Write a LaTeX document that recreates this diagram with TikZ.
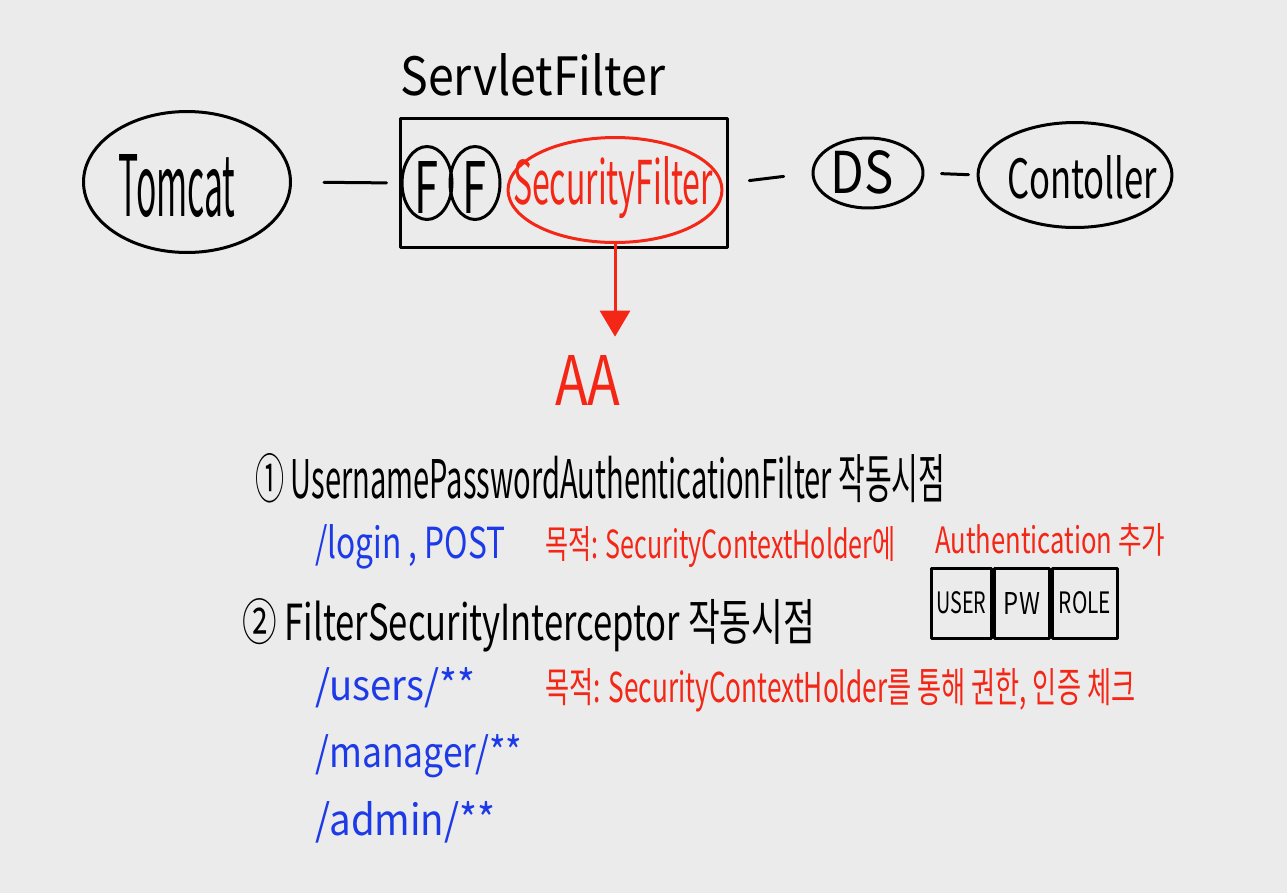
\documentclass[tikz,border=0pt]{standalone}
\usepackage{fontspec}
\setmainfont{Noto Sans CJK KR}
\usetikzlibrary{shapes.geometric,arrows.meta}
\newlength\pxu
\setlength\pxu{0.02cm}
\newcommand\fitt[3]{\resizebox{#1\pxu}{#2\pxu}{#3}}
\definecolor{bgc}{RGB}{235,235,235}
\definecolor{penred}{RGB}{244,38,22}
\definecolor{penblue}{RGB}{28,58,232}
\tikzset{
  pen/.style={line width=0.06cm, line cap=round, line join=round},
  oval/.style={pen, draw=black, ellipse, inner sep=0pt},
  lbl/.style={inner sep=0pt},
  txt/.style={inner sep=0pt, anchor=base west},
  cell/.style={pen, draw=black, rectangle, inner sep=0pt, minimum height=1.4cm, anchor=west},
  link/.style={pen, draw=black}
}
\begin{document}
\begin{tikzpicture}[x=0.02cm, y=-0.02cm]
\fill[bgc] (0,0) rectangle (1287,893);
\useasboundingbox (0,0) rectangle (1287,893);

% top row
\node[txt] (sftitle) at (400,95) {\fitt{265}{42}{ServletFilter}};
\node[oval, minimum width=4.14cm, minimum height=2.82cm] (tomcat) at (187,182) {};
\node[lbl] (tomcatt) at (177,186) {\fitt{117}{62}{Tomcat}};
\node[pen, draw=black, rectangle, minimum width=6.56cm, minimum height=2.6cm] (sfbox) at (564,183) {};
\node[oval, minimum width=1.0cm, minimum height=1.46cm] (f1) at (427,183) {};
\node[lbl] (f1t) at (426,187) {\fitt{24}{52}{F}};
\node[oval, minimum width=1.0cm, minimum height=1.46cm] (f2) at (475,183) {};
\node[lbl] (f2t) at (474,187) {\fitt{24}{52}{F}};
\node[oval, draw=penred, minimum width=4.28cm, minimum height=2.1cm] (secf) at (615,190) {};
\node[lbl, text=penred] (secft) at (613,188) {\fitt{200}{48}{SecurityFilter}};
\node[oval, minimum width=2.2cm, minimum height=1.4cm] (ds) at (868,173) {};
\node[lbl] (dst) at (862,172) {\fitt{63}{43}{DS}};
\node[oval, minimum width=3.88cm, minimum height=2.1cm] (ctrl) at (1075,175) {};
\node[lbl] (ctrlt) at (1082,177) {\fitt{150}{43}{Contoller}};

\draw[link, shorten <=0.64cm, shorten >=0.24cm] (tomcat.east) -- (sfbox.west);
\draw[link, shorten <=0.4cm, shorten >=0.56cm] (sfbox.east) -- (ds.west);
\draw[link, shorten <=0.34cm, shorten >=0.16cm] (ds.east) -- (ctrl.west);

\node[lbl, text=penred] (aa) at (588,380) {\fitt{65}{50}{AA}};
\draw[pen, draw=penred, -{Triangle[length=0.52cm, width=0.6cm]}, shorten >=0.36cm] (secf.south) -- (secf.south |- aa.north);

% numbered lines
\node[txt] (l1) at (255,498) {\fitt{690}{45}{① UsernamePasswordAuthenticationFilter 작동시점}};
\node[txt, text=penblue] (l1a) at (315,558) {\fitt{190}{34}{/login , POST}};
\node[txt, text=penred] (l1b) at (545,558) {\fitt{350}{32}{목적: SecurityContextHolder에}};
\node[txt, text=penred] (l1c) at (935,553) {\fitt{230}{30}{Authentication 추가}};

\node[txt] (l2) at (242,640) {\fitt{573}{42}{② FilterSecurityInterceptor 작동시점}};
\node[cell, minimum width=1.2cm] (c1) at (930,603) {\fitt{50}{22}{USER}};
\node[cell, minimum width=1.1cm] (c2) at (c1.east) {\fitt{36}{22}{PW}};
\node[cell, minimum width=1.3cm] (c3) at (c2.east) {\fitt{52}{22}{ROLE}};

\node[txt, text=penblue] (u1) at (315,700) {\fitt{160}{33}{/users/**}};
\node[txt, text=penred] (l2b) at (545,702) {\fitt{590}{34}{목적: SecurityContextHolder를 통해 권한, 인증 체크}};
\node[txt, text=penblue] (u2) at (315,767) {\fitt{207}{33}{/manager/**}};
\node[txt, text=penblue] (u3) at (315,835) {\fitt{180}{34}{/admin/**}};
\end{tikzpicture}
\end{document}
